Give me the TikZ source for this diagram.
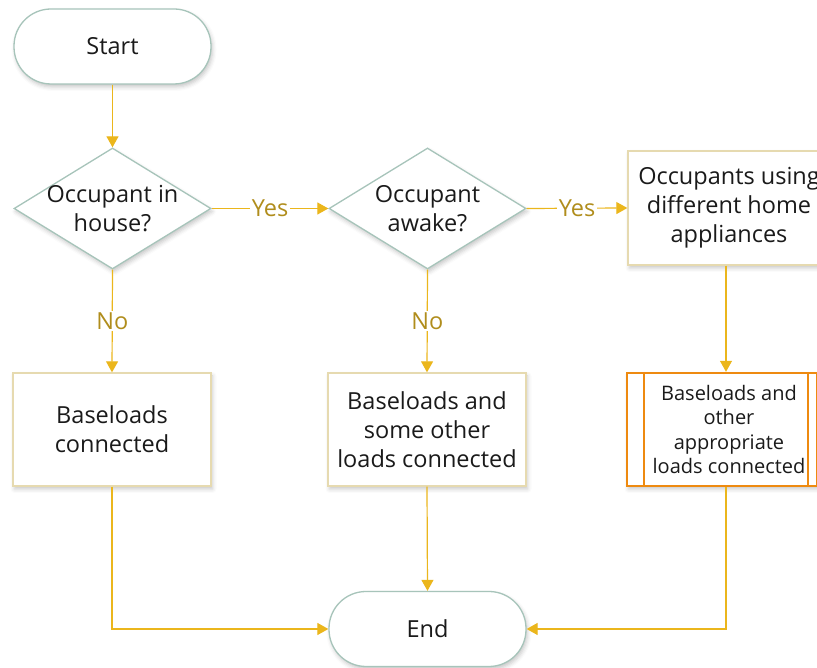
\documentclass[tikz,border=0pt]{standalone}
\usepackage{fontspec}
\setmainfont{Open Sans}
\usetikzlibrary{arrows.meta,shapes.geometric,shadows.blur}

\definecolor{flowline}{HTML}{EBB61C}
\definecolor{flowlabel}{HTML}{B08D1C}
\definecolor{termedge}{HTML}{A7C4BA}
\definecolor{boxedge}{HTML}{E6DAB0}
\definecolor{procedge}{HTML}{EE8A10}
\definecolor{ink}{HTML}{1A1A1A}

\tikzset{
  x=1pt, y=1pt,
  softshadow/.style={blur shadow={shadow xshift=1.5pt, shadow yshift=-3pt,
      shadow blur radius=4pt, shadow opacity=22}},
  maintext/.style={font=\fontsize{23.5}{29}\selectfont, text=ink, align=center},
  smalltext/.style={font=\fontsize{20}{24.5}\selectfont, text=ink, align=center},
  terminal/.style={draw=termedge, line width=1.3pt, fill=white, softshadow,
      rectangle, rounded corners=37pt, minimum width=197pt, minimum height=75pt,
      inner sep=0pt, maintext},
  decision/.style={draw=termedge, line width=1.3pt, fill=white, softshadow,
      diamond, minimum width=197pt, minimum height=121pt, inner sep=0pt},
  stepbox/.style={draw=boxedge, line width=1.3pt, fill=white, softshadow,
      rectangle, minimum width=198pt, minimum height=113pt, inner sep=0pt,
      maintext},
  predef/.style={draw=procedge, line width=2.4pt, fill=white, softshadow,
      rectangle, minimum width=190pt, minimum height=113pt, inner sep=0pt},
  flow/.style={draw=flowline, line width=1.2pt,
      -{Triangle[length=11pt,width=12pt]}},
  answer/.style={fill=white, inner sep=1.5pt, text=flowlabel,
      font=\fontsize{23.5}{29}\selectfont},
}

\begin{document}
\begin{tikzpicture}
  \useasboundingbox (0,0) rectangle (817,668);
  \clip (0,0) rectangle (817,668);

  % terminals
  \node[terminal] (start) at (112.5,621.5) {Start};
  \node[terminal] (end) at (427.5,39) {End};

  % decisions (text set on top of the empty diamonds)
  \node[decision] (d1) at (112.5,459.5) {};
  \node[maintext] (d1text) at (d1) {Occupant in\\house?};
  \node[decision] (d2) at (427.5,459.5) {};
  \node[maintext] (d2text) at (d2) {Occupant\\awake?};

  % process boxes
  \node[stepbox] (b1) at (112,238.5) {Baseloads\\connected};
  \node[stepbox] (b2) at (427,238.5) {Baseloads and\\some other\\loads connected};
  \node[stepbox, minimum width=202pt, minimum height=114pt] (b3) at (729,460)
       {Occupants using\\different home\\appliances};

  % predefined process
  \node[predef] (b4) at (722,238.5) {};
  \draw[procedge, line width=2.4pt]
    ([xshift=18pt]b4.north west) -- ([xshift=18pt]b4.south west)
    ([xshift=-10pt]b4.north east) -- ([xshift=-10pt]b4.south east);
  \node[smalltext] (b4text) at (729,238.5)
       {Baseloads and\\other\\appropriate\\loads connected};

  % connectors
  \draw[flow] (start.south) -- (d1.north);
  \draw[flow] (d1.east) -- node[answer] {Yes} (d2.west);
  \draw[flow] (d2.east) -- node[answer] {Yes} (b3.west);
  \draw[flow] (d1.south) -- node[answer] {No} (b1.north);
  \draw[flow] (d2.south) -- node[answer] {No} (b2.north);
  \draw[flow] ([xshift=-3pt]b3.south) -- ([xshift=4pt]b4.north);
  \draw[flow] (b1.south) |- (end.west);
  \draw[flow] (b2.south) -- (end.north);
  \draw[flow] ([xshift=4pt]b4.south) |- (end.east);
\end{tikzpicture}
\end{document}
